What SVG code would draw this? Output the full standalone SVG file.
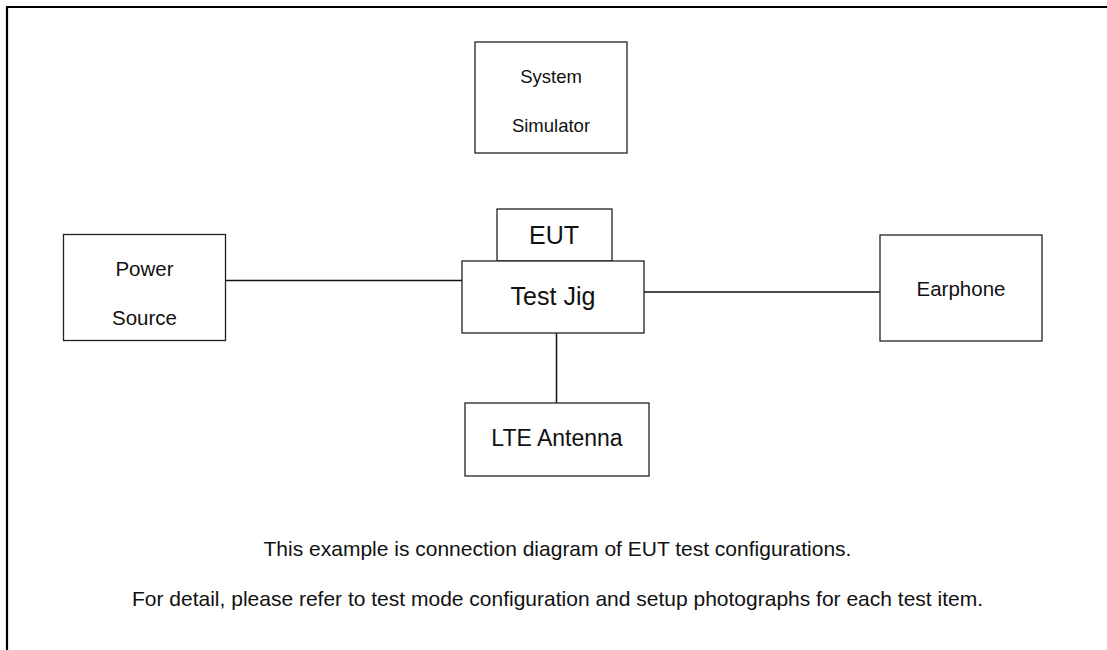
<svg xmlns="http://www.w3.org/2000/svg" width="1107" height="650" viewBox="0 0 1107 650">
<style>
.box{fill:#fff;stroke:#222;stroke-width:1.3}
.ln{stroke:#111;stroke-width:1.5;fill:none}
text{font-family:"Liberation Sans",Arial,sans-serif;fill:#111;text-anchor:middle}
</style>
<rect width="1107" height="650" fill="#fff"/>
<path d="M7,650 V7 H1107" fill="none" stroke="#000" stroke-width="2.2"/>
<g id="connectors">
<line class="ln" x1="226" y1="280.5" x2="462" y2="280.5"/>
<line class="ln" x1="644" y1="292" x2="880" y2="292"/>
<line class="ln" x1="556.5" y1="333" x2="556.5" y2="403"/>
</g>
<g id="system-simulator">
<rect class="box" x="475" y="42" width="152" height="111"/>
<text x="551" y="83" font-size="18.5">System</text>
<text x="551" y="132" font-size="18.5">Simulator</text>
</g>
<g id="power-source">
<rect class="box" x="63.5" y="234.5" width="162" height="106"/>
<text x="144.5" y="276" font-size="20.5">Power</text>
<text x="144.5" y="325" font-size="20.5">Source</text>
</g>
<g id="eut">
<rect class="box" x="497" y="209" width="115" height="52"/>
<text x="554" y="243.5" font-size="25">EUT</text>
</g>
<g id="test-jig">
<rect class="box" x="462" y="261" width="182" height="72"/>
<text x="553" y="305" font-size="25">Test Jig</text>
</g>
<g id="earphone">
<rect class="box" x="880" y="235" width="162" height="106"/>
<text x="961" y="296" font-size="20.5">Earphone</text>
</g>
<g id="lte-antenna">
<rect class="box" x="465" y="403" width="184" height="73"/>
<text x="557" y="446" font-size="23">LTE Antenna</text>
</g>
<g id="notes">
<text x="557.5" y="556" font-size="21">This example is connection diagram of EUT test configurations.</text>
<text x="557.5" y="606" font-size="21">For detail, please refer to test mode configuration and setup photographs for each test item.</text>
</g>
</svg>
